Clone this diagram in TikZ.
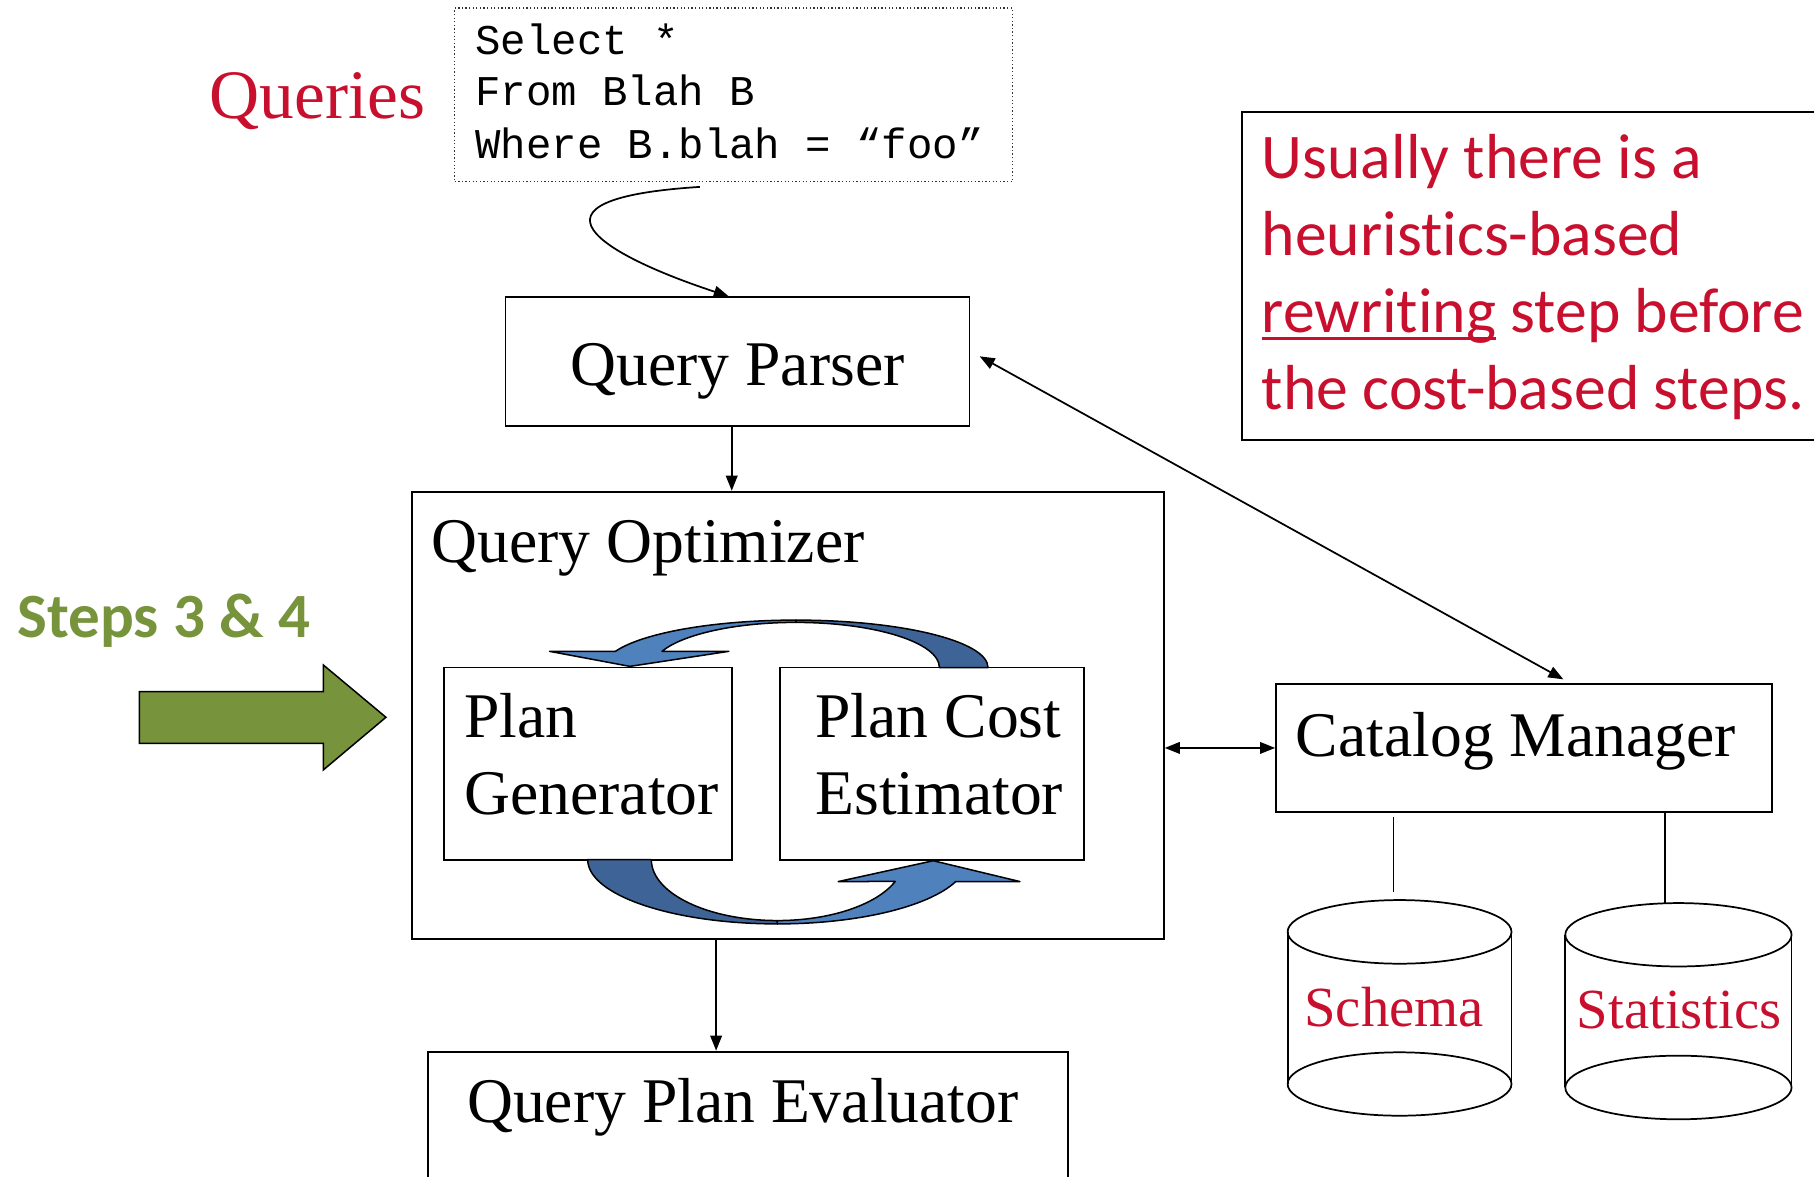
\documentclass[tikz,border=0pt]{standalone}
\usepackage{fontspec}
\setmainfont{Liberation Serif}
\newfontfamily\calibfont[Ligatures=NoCommon]{Carlito}
\newfontfamily\monofont{Liberation Mono}
\usetikzlibrary{arrows.meta,calc}
\definecolor{qred}{RGB}{200,16,46}
\definecolor{qgreen}{RGB}{119,147,60}
\definecolor{qblue}{RGB}{79,129,189}
\definecolor{qdblue}{RGB}{62,99,150}
\newcommand{\myul}[1]{\setbox0=\hbox{#1}\rlap{\rule[-0.12em]{\wd0}{0.04em}}\box0\relax}
\begin{document}
\begin{tikzpicture}[x=1pt,y=-1pt,
  box/.style={draw, line width=1.6pt, inner sep=0pt, fill=white},
  lbl/.style={inner sep=0pt, anchor=base west, font=\fontsize{55}{66}\selectfont},
  mono/.style={inner sep=0pt, anchor=base west, font=\monofont\fontsize{36.6}{44}\selectfont},
  note/.style={inner sep=0pt, anchor=base west, text=qred, font=\calibfont\fontsize{55}{66}\selectfont},
  cyl/.style={inner sep=0pt, anchor=base, text=qred, font=\fontsize{49}{58}\selectfont},
  arr/.style={line width=1.5pt, -{Triangle[length=13pt,width=10pt]}},
  darr/.style={line width=1.5pt, {Triangle[length=13pt,width=10pt]}-{Triangle[length=13pt,width=10pt]}},
  blueedge/.style={draw=black, line width=1.3pt, line join=round}]
\clip (0,0) rectangle (1568,1017);
\fill[white] (0,0) rectangle (1568,1017);

% query text
\node[lbl, text=qred, font=\fontsize{60}{72}\selectfont] (queries) at (181,102) {Queries};
\node[box, minimum width=482pt, minimum height=150pt, line width=1.1pt, dash pattern=on 1.1pt off 2pt, draw=black!80] (sql) at (634,82) {};
\node[mono] (sql1) at (410.8,47.5) {Select *};
\node[mono] (sql2) at (410.8,91.6) {From Blah B};
\node[mono] (sql3) at (410.8,136.8) {Where B.blah = “foo”};

% boxes
\node[box, minimum width=401pt, minimum height=111pt] (qp) at (637.5,312.5) {};
\node[lbl, anchor=base] (qpt) at (637.5,333) {Query Parser};

\node[box, minimum width=650pt, minimum height=387pt] (qo) at (681,618.5) {};
\node[lbl] (qot) at (373,486) {Query Optimizer};

\node[box, minimum width=249pt, minimum height=166.3pt] (pg) at (508.5,660.15) {};
\node[lbl] (pg1) at (401.3,637.3) {Plan};
\node[lbl] (pg2) at (401.3,704.4) {Generator};

\node[box, minimum width=263pt, minimum height=166.3pt] (pce) at (805.5,660.15) {};
\node[lbl] (pce1) at (704.8,637.3) {Plan Cost};
\node[lbl] (pce2) at (704.8,704.4) {Estimator};

\node[box, minimum width=428.7pt, minimum height=111pt] (cm) at (1317.35,646.5) {};
\node[lbl] (cmt) at (1120,654) {Catalog Manager};

\node[box, minimum width=553.3pt, minimum height=131pt] (qpe) at (646.35,974.5) {};
\node[lbl] (qpet) at (403.6,970) {Query Plan Evaluator};

% note
\node[box, line width=2pt, minimum width=540pt, minimum height=283.6pt, anchor=north west] (notebox) at (1072.6,96) {};
\node[note] (n1) at (1090.5,154.7) {Usually there is a};
\node[note] (n2) at (1090.5,221) {heuristics-based};
\node[note] (n3) at (1090.5,287.2) {\myul{rewriting} step before};
\node[note] (n4) at (1090.5,353.8) {the cost-based steps.};

% steps
\node[lbl, text=qgreen, font=\calibfont\bfseries\fontsize{54.5}{66}\selectfont] (steps) at (15,551) {Steps 3 \& 4};
\filldraw[fill=qgreen, draw=black, line width=1.3pt, line join=miter]
  (120.4,597.8) -- (279.5,597.8) -- (279.5,574.8) -- (333.6,620) -- (279.5,665.5) -- (279.5,642.5) -- (120.4,642.5) -- cycle;

% connectors
\draw[arr] ($(sql.south)+(-29,4)$) .. controls (440,172) and (520,220) .. ($(qp.north)+(-7.5,0)$);
\draw[arr] ($(qp.south)+(-5,0)$) -- ($(qp.south |- qo.north)+(-5,0)$);
\draw[arr] ($(qo.south)+(-62,0)$) -- ($(qo.south |- qpe.north)+(-62,0)$);
\draw[darr] (qo.east |- cm.west) -- (cm.west);
\draw[darr] ($(qp.east)+(8,-4.5)$) -- ($(cm.north)+(34,-3)$);

% blue cycle arrows
\filldraw[fill=qdblue, blueedge] (854,577) arc[start angle=360, end angle=270, x radius=166, y radius=41]
  -- (688,538) arc[start angle=270, end angle=360, x radius=124, y radius=39] -- cycle;
\filldraw[fill=qblue, blueedge] (688,536) arc[start angle=270, end angle=200, x radius=166, y radius=41]
  -- (475,563) -- (544.5,576) -- (630,563) -- (572.2,563)
  arc[start angle=201, end angle=270, x radius=124, y radius=39] -- cycle;
\filldraw[fill=qdblue, blueedge] (508,743) arc[start angle=180, end angle=90, x radius=164, y radius=55.6]
  -- (672,795.7) arc[start angle=90, end angle=180, x radius=109, y radius=52.7] -- cycle;
\filldraw[fill=qblue, blueedge] (672,798.6) arc[start angle=90, end angle=20, x radius=164, y radius=55.6]
  -- (881.6,762) -- (806.7,744) -- (724.6,762) -- (773.8,761.9)
  arc[start angle=21, end angle=90, x radius=109, y radius=52.7] -- cycle;

% cylinders
\begin{scope}[line width=1.5pt]
\draw (1113,805.5) -- (1113,937) (1306.5,805.5) -- (1306.5,937);
\draw (1209.75,805.5) ellipse [x radius=96.75, y radius=27.5];
\draw (1209.75,937) ellipse [x radius=96.75, y radius=27.4];
\draw (1353,808) -- (1353,940) (1548.6,808) -- (1548.6,940);
\draw (1450.8,808) ellipse [x radius=97.8, y radius=27.4];
\draw (1450.8,940) ellipse [x radius=97.8, y radius=27.5];
\end{scope}
\node[cyl] (schema) at (1205,887) {Schema};
\node[cyl] (stats) at (1451.5,889) {Statistics};
\coordinate (schtop) at (1204.5,770.7);
\coordinate (stattop) at (1439,780.8);
\draw[line width=1.5pt] ($(schtop |- cm.south)+(0,3)$) -- (schtop);
\draw[line width=1.5pt] (stattop |- cm.south) -- (stattop);
\end{tikzpicture}
\end{document}
